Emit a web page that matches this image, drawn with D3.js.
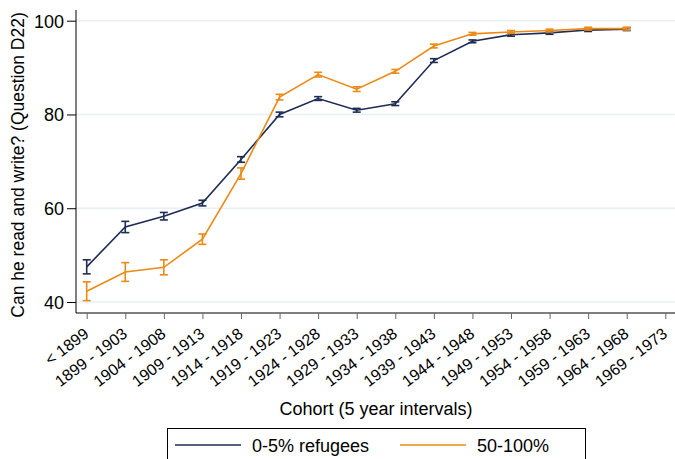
<!DOCTYPE html>
<html>
<head>
<meta charset="utf-8">
<script src="https://cdn.jsdelivr.net/npm/d3@7"></script>
<style>
  body { margin: 0; background: #fff; }
  svg text { font-family: "Liberation Sans", Arial, sans-serif; fill: #000; }
</style>
</head>
<body>
<div id="chart"></div>
<script>
var cohorts = ["< 1899", "1899 - 1903", "1904 - 1908", "1909 - 1913", "1914 - 1918",
  "1919 - 1923", "1924 - 1928", "1929 - 1933", "1934 - 1938", "1939 - 1943",
  "1944 - 1948", "1949 - 1953", "1954 - 1958", "1959 - 1963", "1964 - 1968", "1969 - 1973"];

// 0-5% refugees
var lowMean = [47.5, 56.0, 58.3, 61.1, 70.4, 80.0, 83.4, 80.9, 82.3, 91.5, 95.6, 97.0, 97.4, 98.0, 98.2];
var lowErr  = [1.5, 1.2, 0.8, 0.6, 0.6, 0.5, 0.4, 0.4, 0.4, 0.4, 0.3, 0.3, 0.3, 0.3, 0.3];
// 50-100%
var highMean = [42.3, 46.4, 47.4, 53.4, 67.4, 83.7, 88.5, 85.4, 89.2, 94.6, 97.2, 97.6, 97.9, 98.3, 98.3];
var highErr  = [2.0, 2.0, 1.6, 1.1, 1.2, 0.6, 0.5, 0.5, 0.4, 0.4, 0.3, 0.3, 0.3, 0.3, 0.3];

var yTicks = [40, 60, 80, 100];

var pal = { navy: "#1f2d55", orange: "#ec8a15", grid: "#e8f0f3" };

var W = 675, H = 459;
var margin = { left: 76, top: 10, right: 0, bottom: 146 };
var width = W - margin.left - margin.right;
var height = H - margin.top - margin.bottom;

var svg = d3.select("#chart").append("svg")
    .attr("width", W)
    .attr("height", H);

var g = svg.append("g")
    .attr("transform", "translate(" + margin.left + "," + margin.top + ")");

var x = d3.scalePoint()
    .domain(cohorts)
    .range([10.7, 589.3]);

var y = d3.scaleLinear()
    .domain([40, 100])
    .range([292, 10.7]);

// gridlines
g.selectAll(".grid")
  .data(yTicks)
  .enter().append("line")
    .attr("x1", 0).attr("x2", width)
    .attr("y1", function(d) { return y(d); })
    .attr("y2", function(d) { return y(d); })
    .attr("stroke", pal.grid)
    .attr("stroke-width", 1.5);

// y axis
var yAxis = g.append("g")
    .call(d3.axisLeft(y).tickValues(yTicks).tickSize(9).tickPadding(3));
yAxis.select(".domain").attr("d", "M0,0V" + height).attr("stroke", "#000");
yAxis.selectAll(".tick line").attr("stroke", "#000");
yAxis.selectAll("text").attr("font-size", "18px").attr("dy", "0.36em");

// x axis
var xAxis = g.append("g")
    .attr("transform", "translate(0," + height + ")")
    .call(d3.axisBottom(x).tickSize(6).tickPadding(0));
xAxis.select(".domain").attr("d", "M0,0H" + width).attr("stroke", "#000");
xAxis.selectAll(".tick line").attr("stroke", "#666");
xAxis.selectAll("text")
    .attr("font-size", "16px")
    .attr("y", 0)
    .attr("dy", 0)
    .style("text-anchor", "end")
    .attr("transform", "translate(2.6,23) rotate(-37)");

function drawSeries(means, errs, color) {
  var pts = means.map(function(m, i) { return { c: cohorts[i], m: m, e: errs[i] }; });

  g.append("path")
    .datum(pts)
    .attr("fill", "none")
    .attr("stroke", color)
    .attr("stroke-width", 1.6)
    .attr("d", d3.line()
      .x(function(d) { return x(d.c); })
      .y(function(d) { return y(d.m); }));

  var bars = g.append("g").selectAll("g")
    .data(pts)
    .enter().append("g")
    .attr("stroke", color)
    .attr("stroke-width", 1.6);

  bars.append("line")
    .attr("x1", function(d) { return x(d.c); })
    .attr("x2", function(d) { return x(d.c); })
    .attr("y1", function(d) { return y(d.m - d.e); })
    .attr("y2", function(d) { return y(d.m + d.e); });
  bars.append("line")
    .attr("x1", function(d) { return x(d.c) - 4; })
    .attr("x2", function(d) { return x(d.c) + 4; })
    .attr("y1", function(d) { return y(d.m - d.e); })
    .attr("y2", function(d) { return y(d.m - d.e); });
  bars.append("line")
    .attr("x1", function(d) { return x(d.c) - 4; })
    .attr("x2", function(d) { return x(d.c) + 4; })
    .attr("y1", function(d) { return y(d.m + d.e); })
    .attr("y2", function(d) { return y(d.m + d.e); });
}

drawSeries(lowMean, lowErr, pal.navy);
drawSeries(highMean, highErr, pal.orange);

// axis titles
svg.append("text")
    .attr("x", 376)
    .attr("y", 415)
    .attr("text-anchor", "middle")
    .attr("font-size", "18px")
    .text("Cohort (5 year intervals)");

svg.append("text")
    .attr("transform", "translate(24,165) rotate(-90)")
    .attr("text-anchor", "middle")
    .attr("font-size", "17.5px")
    .text("Can he read and write? (Question D22)");

// legend
var leg = svg.append("g");
leg.append("rect")
    .attr("x", 167.5).attr("y", 428.5)
    .attr("width", 418).attr("height", 40)
    .attr("fill", "#fff")
    .attr("stroke", "#000")
    .attr("stroke-width", 1);

var legItems = [
  { label: "0-5% refugees", color: pal.navy, x1: 175, tx: 252 },
  { label: "50-100%", color: pal.orange, x1: 400, tx: 477 }
];
legItems.forEach(function(it) {
  leg.append("line")
    .attr("x1", it.x1).attr("x2", it.x1 + 66)
    .attr("y1", 445).attr("y2", 445)
    .attr("stroke", it.color)
    .attr("stroke-width", 1.6);
  leg.append("text")
    .attr("x", it.tx).attr("y", 451.5)
    .attr("font-size", "18px")
    .text(it.label);
});
</script>
</body>
</html>
